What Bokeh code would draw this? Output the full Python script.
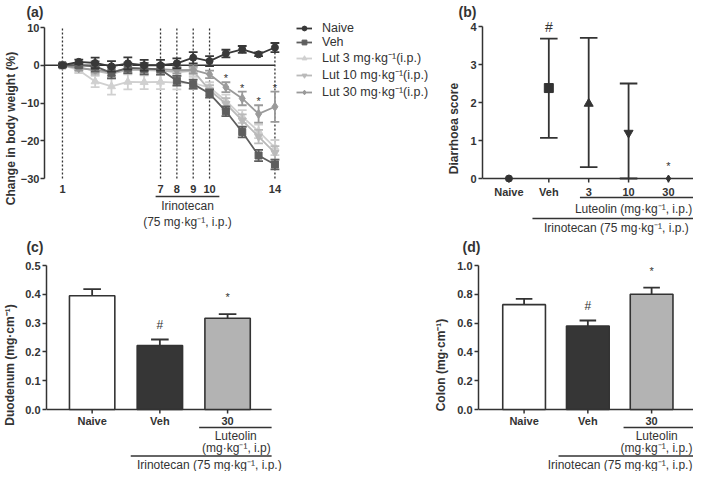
import numpy as np
from bokeh.plotting import figure
from bokeh.layouts import column, row
from bokeh.models import (FixedTicker, Legend, LegendItem, NumeralTickFormatter, Range1d)
from bokeh.core.properties import value
from bokeh.embed import file_html
from bokeh.resources import INLINE

FONT = "Liberation Sans"
INK = "#333333"

# ---------------- data: panel (a) ----------------
days = list(range(1, 15))
naive = [0, 0.9, 0.6, -0.3, 0.5, 0.0, 0.0, 0.5, 2.0, 1.1, 3.1, 4.2, 2.9, 4.7]
naive_err = [0.4, 0.6, 1.4, 1.4, 1.6, 1.4, 1.4, 1.3, 1.5, 1.3, 1.0, 0.9, 0.5, 1.2]
veh = [0, 0.0, -0.3, -2.0, -0.7, -0.9, -1.1, -4.1, -5.0, -7.5, -12.2, -17.7, -23.9, -26.3]
veh_err = [0.3, 0.6, 1.3, 1.5, 1.4, 1.5, 1.4, 1.3, 1.2, 1.1, 1.3, 1.4, 1.5, 1.3]
lut3 = [0, -1.3, -4.3, -5.6, -4.4, -4.5, -4.4, -4.6, -4.7, -5.9, -9.4, -13.6, -17.5, -21.8]
lut3_err = [0.3, 0.8, 1.5, 2.2, 2.0, 1.8, 1.9, 1.8, 1.6, 1.4, 1.6, 1.7, 1.8, 2.0]
lut10 = [0, -0.5, -1.5, -2.3, -1.2, -1.3, -1.4, -1.8, -1.5, -6.6, -10.2, -14.6, -18.9, -23.2]
lut10_err = [0.3, 0.7, 1.0, 1.2, 1.0, 1.0, 1.0, 1.0, 1.0, 1.3, 1.5, 1.6, 1.8, 1.8]
lut30 = [0, -0.8, -1.2, -1.8, -0.8, -0.9, -1.0, -1.3, -1.2, -2.4, -5.8, -8.8, -12.9, -11.0]
lut30_err = [0.3, 0.6, 0.8, 1.0, 0.9, 0.9, 0.9, 0.9, 0.9, 1.0, 1.3, 1.8, 2.3, 4.0]
series_names = ["Naive", "Veh", "Lut 3 mg·kg⁻¹(i.p.)", "Lut 10 mg·kg⁻¹(i.p.)",
                "Lut 30 mg·kg⁻¹(i.p.)"]
weight_ticks = [-30, -20, -10, 0, 10]
weight_tick_labels = ["−30", "−20", "−10", "0", "10"]
dose_days = [1, 7, 8, 9, 10, 14]
dose_day_labels = ["1", "7", "8", "9", "10", "14"]
sig_days = [11, 12, 13, 14]

# ---------------- data: panel (b) ----------------
b_groups = ["Naive", "Veh", "3", "10", "30"]
b_mean = [0, 2.38, 1.97, 1.2, 0]
b_low = [0, 1.07, 0.3, 0.0, 0]
b_high = [0, 3.68, 3.7, 2.5, 0]
b_ticks = [0, 1, 2, 3, 4]

# ---------------- data: panels (c), (d) ----------------
cd_groups = ["Naive", "Veh", "30"]
duo = [0.395, 0.222, 0.317]
duo_err = [0.023, 0.021, 0.014]
duo_ticks = [0.0, 0.1, 0.2, 0.3, 0.4, 0.5]
colon = [0.728, 0.579, 0.80]
colon_err = [0.040, 0.039, 0.046]
colon_ticks = [0.0, 0.2, 0.4, 0.6, 0.8, 1.0]

panel_titles = ["(a)", "(b)", "(c)", "(d)"]


def base_fig(w, h, xr, yr, left):
    p = figure(width=w, height=h, x_range=Range1d(*xr), y_range=Range1d(*yr),
               x_axis_type=None, output_backend="svg", toolbar_location=None,
               min_border_left=left, min_border_right=0, min_border_top=0,
               min_border_bottom=0)
    p.outline_line_color = None
    p.grid.visible = False
    p.background_fill_color = "white"
    p.border_fill_color = "white"
    return p


def title_strip(h, texts, xs, y):
    s = figure(width=693, height=h, x_range=Range1d(0, 693), y_range=Range1d(0, h),
               x_axis_type=None, y_axis_type=None, output_backend="svg",
               toolbar_location=None, min_border=0)
    s.outline_line_color = None
    s.background_fill_color = "white"
    s.border_fill_color = "white"
    s.text(x=xs, y=[y] * len(xs), text=texts, text_font=value(FONT),
           text_font_size="14px", text_font_style="bold", text_align="right",
           text_baseline="middle", text_color=INK)
    return s


def style_y(p, ticks, label, label_standoff, overrides=None, fmt=None, tick_standoff=2):
    ax = p.yaxis[0]
    ax.ticker = FixedTicker(ticks=ticks)
    ax.bounds = (ticks[0], ticks[-1])
    ax.axis_line_width = 1.5
    ax.axis_line_color = INK
    ax.major_tick_line_width = 1.5
    ax.major_tick_line_color = INK
    ax.major_tick_out = 4
    ax.major_tick_in = 0
    ax.minor_tick_out = 0
    ax.minor_tick_in = 0
    ax.major_label_text_font = FONT
    ax.major_label_text_font_size = "11px"
    ax.major_label_text_font_style = "bold"
    ax.major_label_text_color = INK
    ax.major_label_standoff = tick_standoff
    ax.axis_label = label
    ax.axis_label_text_font = FONT
    ax.axis_label_text_font_size = "12px"
    ax.axis_label_text_font_style = "bold"
    ax.axis_label_text_color = INK
    ax.axis_label_standoff = label_standoff
    if overrides:
        ax.major_label_overrides = overrides
    if fmt:
        ax.formatter = NumeralTickFormatter(format=fmt)


def txt(p, xs, ys, texts, size="12px", bold=False, align="center", color=INK):
    p.text(x=list(xs), y=list(ys), text=list(texts), text_font=value(FONT),
           text_font_size=size, text_font_style="bold" if bold else "normal",
           text_align=align, text_baseline="middle", text_color=color)


def hline(p, x0, x1, y, width=1.3):
    p.segment(x0=[x0], y0=[y], x1=[x1], y1=[y], line_color=INK, line_width=width)


# ======================= titles (right edges of the panel labels) =======================
strip1 = title_strip(20, panel_titles[:2], [43, 476], 9)
strip2 = title_strip(22, panel_titles[2:], [43, 480], 12)

# ======================= panel (a) =======================
sa = 3.775      # px per % unit
ya0 = weight_ticks[0]
pa = base_fig(444, 216, (-0.0986, 24.375), (-30 - 58 / sa, 10 + 7 / sa), 43)
style_y(pa, weight_ticks, "Change in body weight (%)", 0,
        overrides=dict(zip(weight_ticks, weight_tick_labels)), tick_standoff=1)

tops = [weight_ticks[-1]] * (len(dose_days) - 1) + [5]
pa.segment(x0=dose_days, y0=[ya0] * len(dose_days), x1=dose_days, y1=tops,
           line_dash="2 2", line_width=1.3, line_color=INK)
hline(pa, pa.x_range.start, days[-1], 0, width=1.6)

means = [naive, veh, lut3, lut10, lut30]
errs = [naive_err, veh_err, lut3_err, lut10_err, lut30_err]
colors = ["#383838", "#5e5e5e", "#d0d0d0", "#bababa", "#9a9a9a"]
markers = ["circle", "square", "triangle", "inverted_triangle", "diamond"]
sizes = [7, 7, 8, 8, 9]
items = [None] * 5
d = np.array(days, dtype=float)
for i in [2, 3, 4, 1, 0]:
    m = np.array(means[i])
    e = np.array(errs[i])
    c = colors[i]
    pa.segment(x0=d, y0=m - e, x1=d, y1=m + e, line_color=c, line_width=1.8)
    pa.segment(x0=d - 0.27, y0=m - e, x1=d + 0.27, y1=m - e, line_color=c, line_width=1.8)
    pa.segment(x0=d - 0.27, y0=m + e, x1=d + 0.27, y1=m + e, line_color=c, line_width=1.8)
    ln = pa.line(d, m, line_color=c, line_width=1.8)
    sc = pa.scatter(d, m, marker=markers[i], size=sizes[i], fill_color=c, line_color=c)
    items[i] = LegendItem(label=value(series_names[i]), renderers=[ln, sc])

leg = Legend(items=items, location=(252, 136), padding=2, spacing=-1, margin=0,
             glyph_width=16, glyph_height=12, label_height=12, label_standoff=10,
             label_text_font=FONT, label_text_font_size="12.5px",
             label_text_color=INK, border_line_color=None,
             background_fill_alpha=0)
pa.add_layout(leg)

sig_y = [lut30[dd - 1] + lut30_err[dd - 1] + 4 / sa for dd in sig_days]
txt(pa, sig_days, sig_y, ["*"] * len(sig_days), size="11px", color=INK)

txt(pa, dose_days, [ya0 - 10 / sa] * len(dose_days), dose_day_labels, size="11px", bold=True)
hline(pa, 6.7, 10.6, ya0 - 18 / sa)
txt(pa, [8.65], [ya0 - 27 / sa], ["Irinotecan"])
txt(pa, [8.65], [ya0 - 43 / sa], ["(75 mg·kg⁻¹, i.p.)"])

# ======================= panel (b) =======================
sb = 38.0
pb = base_fig(249, 216, (-0.6628, 4.6279), (-58 / sb, 4 + 6 / sb), 34)
style_y(pb, b_ticks, "Diarrhoea score", 6)
bx = list(range(len(b_groups)))
hline(pb, pb.x_range.start, pb.x_range.end, 0, width=1.5)
pb.segment(x0=bx, y0=[0] * 5, x1=bx, y1=[-4 / sb] * 5, line_color=INK, line_width=1.5)

eb = [i for i in bx if b_high[i] > b_low[i]]
pb.segment(x0=eb, y0=[b_low[i] for i in eb], x1=eb, y1=[b_high[i] for i in eb],
           line_color=INK, line_width=1.8)
for arr in (b_low, b_high):
    pb.segment(x0=[i - 0.22 for i in eb], y0=[arr[i] for i in eb],
               x1=[i + 0.22 for i in eb], y1=[arr[i] for i in eb],
               line_color=INK, line_width=1.8)
pb.scatter(x=bx, y=b_mean, marker=["circle", "square", "triangle", "inverted_triangle", "diamond"],
           size=[7, 9, 9, 9, 7], fill_color=INK, line_color=INK)

txt(pb, [1], [b_high[1] + 12 / sb], ["#"], size="14px")
txt(pb, [4], [b_mean[4] + 13 / sb], ["*"], size="11px", color=INK)

txt(pb, bx, [-13 / sb] * 5, b_groups, size="11px", bold=True)
hline(pb, 1.78, pb.x_range.end, -19 / sb)
txt(pb, [pb.x_range.end - 0.03], [-30 / sb], ["Luteolin (mg·kg⁻¹, i.p.)"], align="right")
hline(pb, 0.59, pb.x_range.end, -40 / sb)
txt(pb, [pb.x_range.end - 0.12], [-49.5 / sb], ["Irinotecan (75 mg·kg⁻¹, i.p.)"], align="right")

# ======================= panels (c), (d) =======================
bar_colors = ["white", "#363636", "#b3b3b3"]
cx = [0, 1, 2]


def bar_panel(w, left, xr, scale, vals, errs_, ticks, ylabel, lab_standoff,
              axis_end, lut_line0, lut_x, irino_line0, irino_x, irino_align,
              mg_text, mg_x, mg_align):
    p = base_fig(w, 213, xr, (-62 / scale, ticks[-1] + 7 / scale), left)
    style_y(p, ticks, ylabel, lab_standoff, fmt="0.0")
    hline(p, p.x_range.start, axis_end, 0, width=1.5)
    p.segment(x0=cx, y0=[0] * 3, x1=cx, y1=[-4 / scale] * 3, line_color=INK, line_width=1.5)
    tops_ = [v + e for v, e in zip(vals, errs_)]
    p.segment(x0=cx, y0=vals, x1=cx, y1=tops_, line_color=INK, line_width=1.8)
    p.segment(x0=[x - 0.13 for x in cx], y0=tops_, x1=[x + 0.13 for x in cx], y1=tops_,
              line_color=INK, line_width=1.8)
    p.vbar(x=cx, top=vals, bottom=0, width=0.67, fill_color=bar_colors,
           line_color=INK, line_width=1.6)
    txt(p, [1], [tops_[1] + 15 / scale], ["#"], size="12px")
    txt(p, [2], [tops_[2] + 17 / scale], ["*"], size="11px", color=INK)
    txt(p, cx, [-11 / scale] * 3, cd_groups, size="11px", bold=True)
    hline(p, lut_line0, axis_end, -18 / scale)
    txt(p, [lut_x], [-26 / scale], ["Luteolin"])
    txt(p, [mg_x], [-38.5 / scale], [mg_text], align=mg_align)
    hline(p, irino_line0, axis_end, -46.5 / scale)
    txt(p, [irino_x], [-55 / scale], ["Irinotecan (75 mg·kg⁻¹, i.p.)"], align=irino_align)
    return p


pc = bar_panel(431, 43, (-0.674, 5.011), 288.0, duo, duo_err, duo_ticks,
               "Duodenum (mg·cm⁻¹)", 5,
               2.65, 1.58, 2.12, 0.57, 1.73, "center", "(mg·kg⁻¹, i.p)", 2.13, "center")
pd = bar_panel(262, 44, (-0.715, 2.657), 144.0, colon, colon_err, colon_ticks,
               "Colon (mg·cm⁻¹)", 6,
               2.657, 1.56, 2.08, 0.54, 2.64, "right", "(mg·kg⁻¹, i.p.)",
               2.64, "right")

layout = column(strip1, row(pa, pb), strip2, row(pc, pd))
open("out.html", "w").write(file_html(layout, INLINE))
